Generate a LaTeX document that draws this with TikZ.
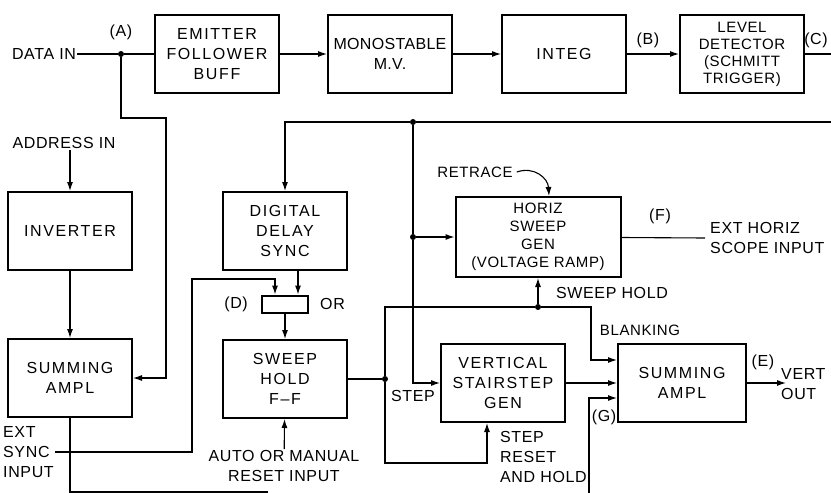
\documentclass[tikz,border=0pt]{standalone}
\usepackage{fontspec}
\setmainfont{Liberation Sans}[LetterSpace=4]
\usetikzlibrary{arrows.meta, positioning}

\begin{document}
\begin{tikzpicture}[x=1pt, y=-1pt,
    every node/.style={font=\fontsize{16}{20}\selectfont, align=center, inner sep=1pt},
    block/.style={rectangle, draw, line width=2pt, minimum width=124pt, minimum height=78pt,
                  font=\fontsize{16}{20}\selectfont\addfontfeature{LetterSpace=10}},
    gate/.style={rectangle, draw, line width=2pt, minimum width=46pt, minimum height=17pt},
    wire/.style={line width=1.1pt},
    arrow/.style={wire, -{Latex[length=9pt, width=6pt]}},
    dot/.style={circle, fill, inner sep=0pt, minimum size=6pt},
    small/.style={font=\fontsize{15}{18}\selectfont}
]
    \useasboundingbox (0,0) rectangle (831,493);

    % data path
    \node (datain) at (44,54) {DATA IN};
    \node[dot] (A) at (121,54) {};
    \node[above=10pt of A] (lblA) {(A)};
    \node[block] (efb) at (217,54) {EMITTER\\FOLLOWER\\BUFF};
    \node[block, right=47pt of efb, font=\fontsize{16}{20}\selectfont\addfontfeature{LetterSpace=2}] (mono) {MONOSTABLE\\M.V.};
    \node[block, right=48pt of mono] (integ) {INTEG};
    \node[block, right=52pt of integ, font=\fontsize{15}{17}\selectfont] (lvl) {LEVEL\\DETECTOR\\(SCHMITT\\TRIGGER)};
    \node (lblB) at (648,40) {(B)};
    \node (lblC) at (816,40) {(C)};
    \coordinate (cout) at (831,54);
    \draw[wire] (datain) -- (A) -- (efb);
    \draw[arrow] (efb) -- (mono);
    \draw[arrow] (mono) -- (integ);
    \draw[arrow] (integ) -- (lvl);
    \draw[wire] (lvl) -- (cout);

    % address side
    \node (addr) at (64,143) {ADDRESS IN};
    \node[block] (inv) at (70,231) {INVERTER};
    \node[block] (sumL) at (70,378) {SUMMING\\AMPL};
    \coordinate (gend) at (268,492);
    \draw[arrow] (addr.south -| inv) -- (inv);
    \draw[arrow] (inv) -- (sumL);
    \draw[arrow] (A) |- (166,118) |- (sumL);
    \draw[wire] (sumL) |- (gend);

    % sync and sweep hold
    \coordinate (fbin) at (831,122);
    \node[dot] (T) at (413,122) {};
    \node[block] (dds) at (285,231) {DIGITAL\\DELAY\\SYNC};
    \node[gate] (orbox) at (285,304) {};
    \node[right=10pt of orbox] (lblor) {OR};
    \node[left=12pt of orbox] (lblD) {(D)};
    \node[block] (shff) at (285,379) {SWEEP\\HOLD\\F--F};
    \node (reset) at (284,466) {AUTO OR MANUAL\\RESET INPUT};
    \node[anchor=west, align=left] (extsync) at (2,452) {EXT\\SYNC\\INPUT};
    \draw[wire] (fbin) -- (T);
    \draw[arrow] (T) -| (dds);
    \draw[arrow] ([xshift=13pt]dds.south) -- ([xshift=13pt]orbox.north);
    \draw[arrow] (extsync.east) -| (192,279) -| ([xshift=-10pt]orbox.north);
    \draw[arrow] (orbox) -- (shff);
    \draw[arrow] (reset) -- (shff);

    % sweep and stairstep
    \node[block, small, minimum width=165pt, minimum height=80pt] (hsg) at (538,237) {HORIZ\\SWEEP\\GEN\\(VOLTAGE RAMP)};
    \node[dot] (H) at (413,237) {};
    \node[small] (retrace) at (475,172) {RETRACE};
    \coordinate (rtend) at ([xshift=11pt]hsg.north);
    \coordinate (fout) at (705,238);
    \node (lblF) at (660,216) {(F)};
    \node[anchor=west, align=left] (exth) at (709,238) {EXT HORIZ\\SCOPE INPUT};
    \draw[wire] (T) -- (H);
    \draw[arrow] (H) -- (hsg);
    \draw[arrow] ([xshift=3pt]retrace.east) .. controls (534,166) and (548,178) .. (rtend);
    \draw[wire] (hsg) -- (fout);

    \node[block] (vsg) at (503,383) {VERTICAL\\STAIRSTEP\\GEN};
    \node[block, minimum width=128pt] (sumR) at (682,383) {SUMMING\\AMPL};
    \node (lblstep) at (413,396) {STEP};
    \node[dot] (S) at (385,379) {};
    \node[dot] (SH) at (538,307) {};
    \node (lblsh) at (612,293) {SWEEP HOLD};
    \node[small] (lblblank) at (640,330) {BLANKING};
    \node[anchor=west, align=left] (lblrst) at (499,457) {STEP\\RESET\\AND HOLD};
    \coordinate (rst) at ([xshift=-16pt]vsg.south);
    \coordinate (gin) at (589,493);
    \node (lblG) at (604,417) {(G)};
    \coordinate (vout) at (786,383);
    \node (lblE) at (763,362) {(E)};
    \node[anchor=west, align=left] (vert) at (780,384) {VERT\\OUT};
    \draw[arrow] (H) |- (vsg);
    \draw[wire] (shff) -- (S);
    \draw[wire] (S) |- (SH);
    \draw[arrow] (SH) -- (hsg);
    \draw[arrow] (SH) -| ([xshift=-26pt, yshift=23pt]sumR.west) -- ([yshift=23pt]sumR.west);
    \draw[arrow] (S) -- (385,463) -| (rst);
    \draw[arrow] (vsg) -- (sumR);
    \draw[arrow] (gin) |- ([yshift=-15pt]sumR.west);
    \draw[arrow] (sumR) -- (vout);
\end{tikzpicture}
\end{document}
